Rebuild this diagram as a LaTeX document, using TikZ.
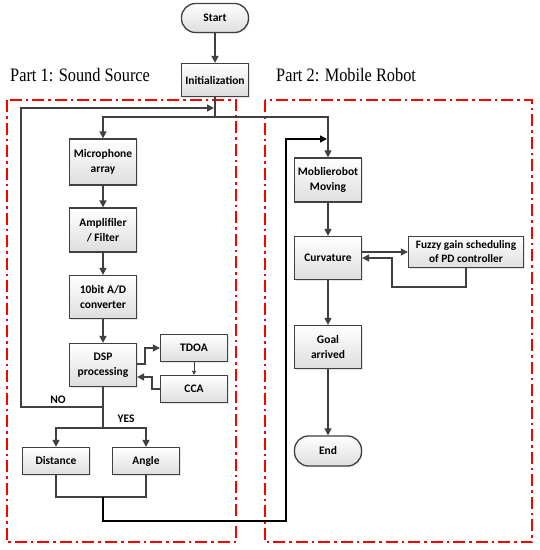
\documentclass[tikz,border=0pt]{standalone}
\usepackage{fontspec}
\setmainfont{Liberation Serif}
\newfontfamily\boxfont{Carlito}
\usetikzlibrary{arrows.meta,shadows}
\begin{document}
\begin{tikzpicture}[x=1pt,y=-1pt,
 box/.style={draw=black!75, line width=1.3pt, top color=white, bottom color=black!13,
   font=\boxfont\bfseries\fontsize{11.5}{15}\selectfont, align=center, inner sep=0pt,
   minimum width=67pt, drop shadow={opacity=0.2,shadow xshift=1pt,shadow yshift=-1pt}},
 term/.style={box, rounded corners=14pt},
 flow/.style={draw=black!75, line width=1.5pt, -{Triangle[length=7pt,width=7pt]}},
 thinflow/.style={draw=black!75, line width=0.8pt, -{Triangle[length=4pt,width=4pt]}},
 conn/.style={draw=black!75, line width=1.5pt},
 mline/.style={draw=black!75, line width=1.2pt},
 mflow/.style={draw=black, line width=1.5pt, -{Triangle[length=7pt,width=7pt]}},
 part/.style={draw=red, line width=1.8pt, dash pattern=on 12pt off 4pt on 2.5pt off 4pt},
 parttext/.style={font=\fontsize{19}{21}\selectfont, anchor=base west, inner sep=0pt},
 lbl/.style={font=\boxfont\bfseries\fontsize{11.5}{12}\selectfont}
]
\useasboundingbox[fill=white] (0,0) rectangle (540,550);

% dashed regions
\draw[part] (7,100) rectangle (236,542);
\draw[part] (265,100) rectangle (532,542);
\node[parttext] (p1) at (10,81) {\scalebox{0.86}[1]{Part 1: Sound Source}};
\node[parttext] (p2) at (276,81) {\scalebox{0.86}[1]{Part 2: Mobile Robot}};

% nodes
\node[term, minimum height=29pt] (start) at (215,18) {Start};
\node[box, minimum height=33pt] (init) at (215,80) {Initialization};
\node[box, minimum height=46pt] (mic) at (103,162) {Microphone\\array};
\node[box, minimum height=44pt] (amp) at (103,230) {Amplifiler\\/ Filter};
\node[box, minimum height=43pt] (adc) at (103,297) {10bit A/D\\converter};
\node[box, minimum height=43pt] (dsp) at (103,365) {DSP\\processing};
\node[box, minimum height=27pt] (tdoa) at (194,348) {TDOA};
\node[box, minimum height=27pt] (cca) at (194,389) {CCA};
\node[box, minimum height=27pt] (dist) at (56,461) {Distance};
\node[box, minimum height=27pt] (ang) at (146,461) {Angle};
\node[box, minimum height=44pt] (mob) at (328,180) {Moblierobot\\Moving};
\node[box, minimum height=43pt] (curv) at (328,258) {Curvature};
\node[box, minimum width=115pt, minimum height=31pt, font=\boxfont\bfseries\fontsize{11.3}{14}\selectfont] (fuzzy) at (466,252) {Fuzzy gain scheduling\\of PD controller};
\node[box, minimum height=43pt] (goal) at (328,347) {Goal\\arrived};
\node[term, minimum height=30pt] (end) at (328,451) {End};

\node[lbl] (no) at (58,400) {NO};
\node[lbl] (yes) at (126,419) {YES};

% junctions
\coordinate (j1) at (215,117);
\coordinate (jloop) at (214,108);
\coordinate (jno) at (103,407);
\coordinate (nol) at (21,407);
\coordinate (jyes) at (103,428);
\coordinate (jm) at (103,497);
\coordinate (jb) at (103,521);
\coordinate (jr) at (286,521);
\coordinate (jt) at (286,139);
\coordinate (jmob) at (327,139);
\coordinate (fb) at (392,287);

% connectors
\draw[flow] (start) -- (init);
\draw[conn] (init.south) -- (j1);
\draw[flow] (j1) -| (mic.north);
\draw[flow] (j1) -| (mob.north);
\draw[flow] (mic) -- (amp);
\draw[flow] (amp) -- (adc);
\draw[flow] (adc) -- (dsp);
\draw[flow] ([yshift=1pt]dsp.east) -- ++(8,0) |- (tdoa.west);
\draw[flow] (cca.west) -- ++(-8,0) |- ([yshift=-12pt]dsp.east);
\draw[thinflow] (tdoa) -- (cca);
\draw[conn] (dsp.south) -- (jyes);
\draw[flow] (jno) -- (nol) |- (jloop);
\draw[flow] (jyes) -| (dist.north);
\draw[flow] (jyes) -| (ang.north);
\draw[mline] (dist.south) |- (jm) -| (ang.south);
\draw[mflow] (jm) -- (jb) -- (jr) -- (jt) -- (jmob);
\draw[flow] (mob) -- (curv);
\draw[flow] ([yshift=6pt]curv.east) -- (fuzzy.west);
\draw[flow] (fuzzy.south) |- (fb) |- (curv.east);
\draw[flow] (curv) -- (goal);
\draw[flow] (goal) -- (end);
\end{tikzpicture}
\end{document}
